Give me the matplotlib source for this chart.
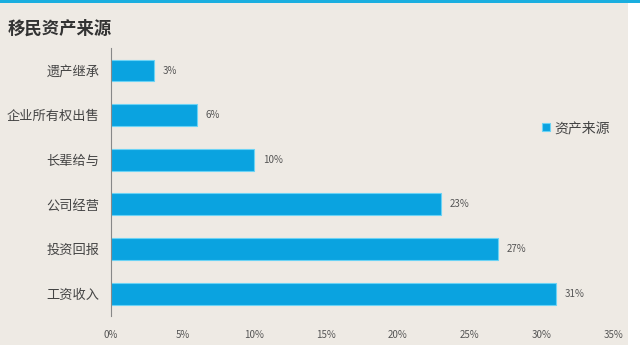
import matplotlib.pyplot as plt
from matplotlib.patches import Rectangle

plt.rcParams['font.family'] = ['Noto Sans CJK SC', 'DejaVu Sans']

categories = ['工资收入', '投资回报', '公司经营', '长辈给与', '企业所有权出售', '遗产继承']
values = [31, 27, 23, 10, 6, 3]
xticks = [0, 5, 10, 15, 20, 25, 30, 35]
title = '移民资产来源'
series_name = '资产来源'

fig = plt.figure(figsize=(6.4, 3.51), dpi=100, facecolor='white')

# beige panel and cyan top strip
fig.patches.append(Rectangle((0, 0.017), 0.981, 0.975, transform=fig.transFigure,
                             facecolor='#EEEAE4', edgecolor='none', zorder=-10))
fig.patches.append(Rectangle((0, 0.991), 1, 0.009, transform=fig.transFigure,
                             facecolor='#1AAEDF', edgecolor='none', zorder=-10))

ax = fig.add_axes([0.173, 0.0997, 0.785, 0.763])
ax.set_facecolor('none')
ax.set_zorder(1)

ypos = list(range(len(categories)))
ax.barh(ypos, values, height=0.49, color='#0AA3E0', edgecolor='#6BD3F5',
        linewidth=0.8, label=series_name)
for y, v in zip(ypos, values):
    ax.text(v + 0.6, y, f'{v}%', va='center', ha='left', fontsize=7, color='#555555')

ax.set_xlim(0, 35)
ax.set_ylim(-0.5, 5.5)
ax.set_xticks(xticks)
ax.set_xticklabels([f'{t}%' for t in xticks], fontsize=7, color='#555555')
ax.set_yticks(ypos)
ax.set_yticklabels(categories, fontsize=9.5, color='#444444')
ax.tick_params(axis='both', length=0)
ax.tick_params(axis='x', pad=10)
ax.tick_params(axis='y', pad=8)
for s in ['top', 'right', 'bottom']:
    ax.spines[s].set_visible(False)
ax.spines['left'].set_color('#888888')
ax.spines['left'].set_linewidth(0.8)

leg = ax.legend(loc='upper left', bbox_to_anchor=(0.833, 0.775), frameon=False,
                fontsize=10, handlelength=0.6, handleheight=0.6, handletextpad=0.3,
                labelcolor='#444444')

fig.text(0.012, 0.917, title, fontsize=12.5, fontweight='bold', color='#333333',
         va='center', ha='left')

fig.savefig('out.png', dpi=100)
